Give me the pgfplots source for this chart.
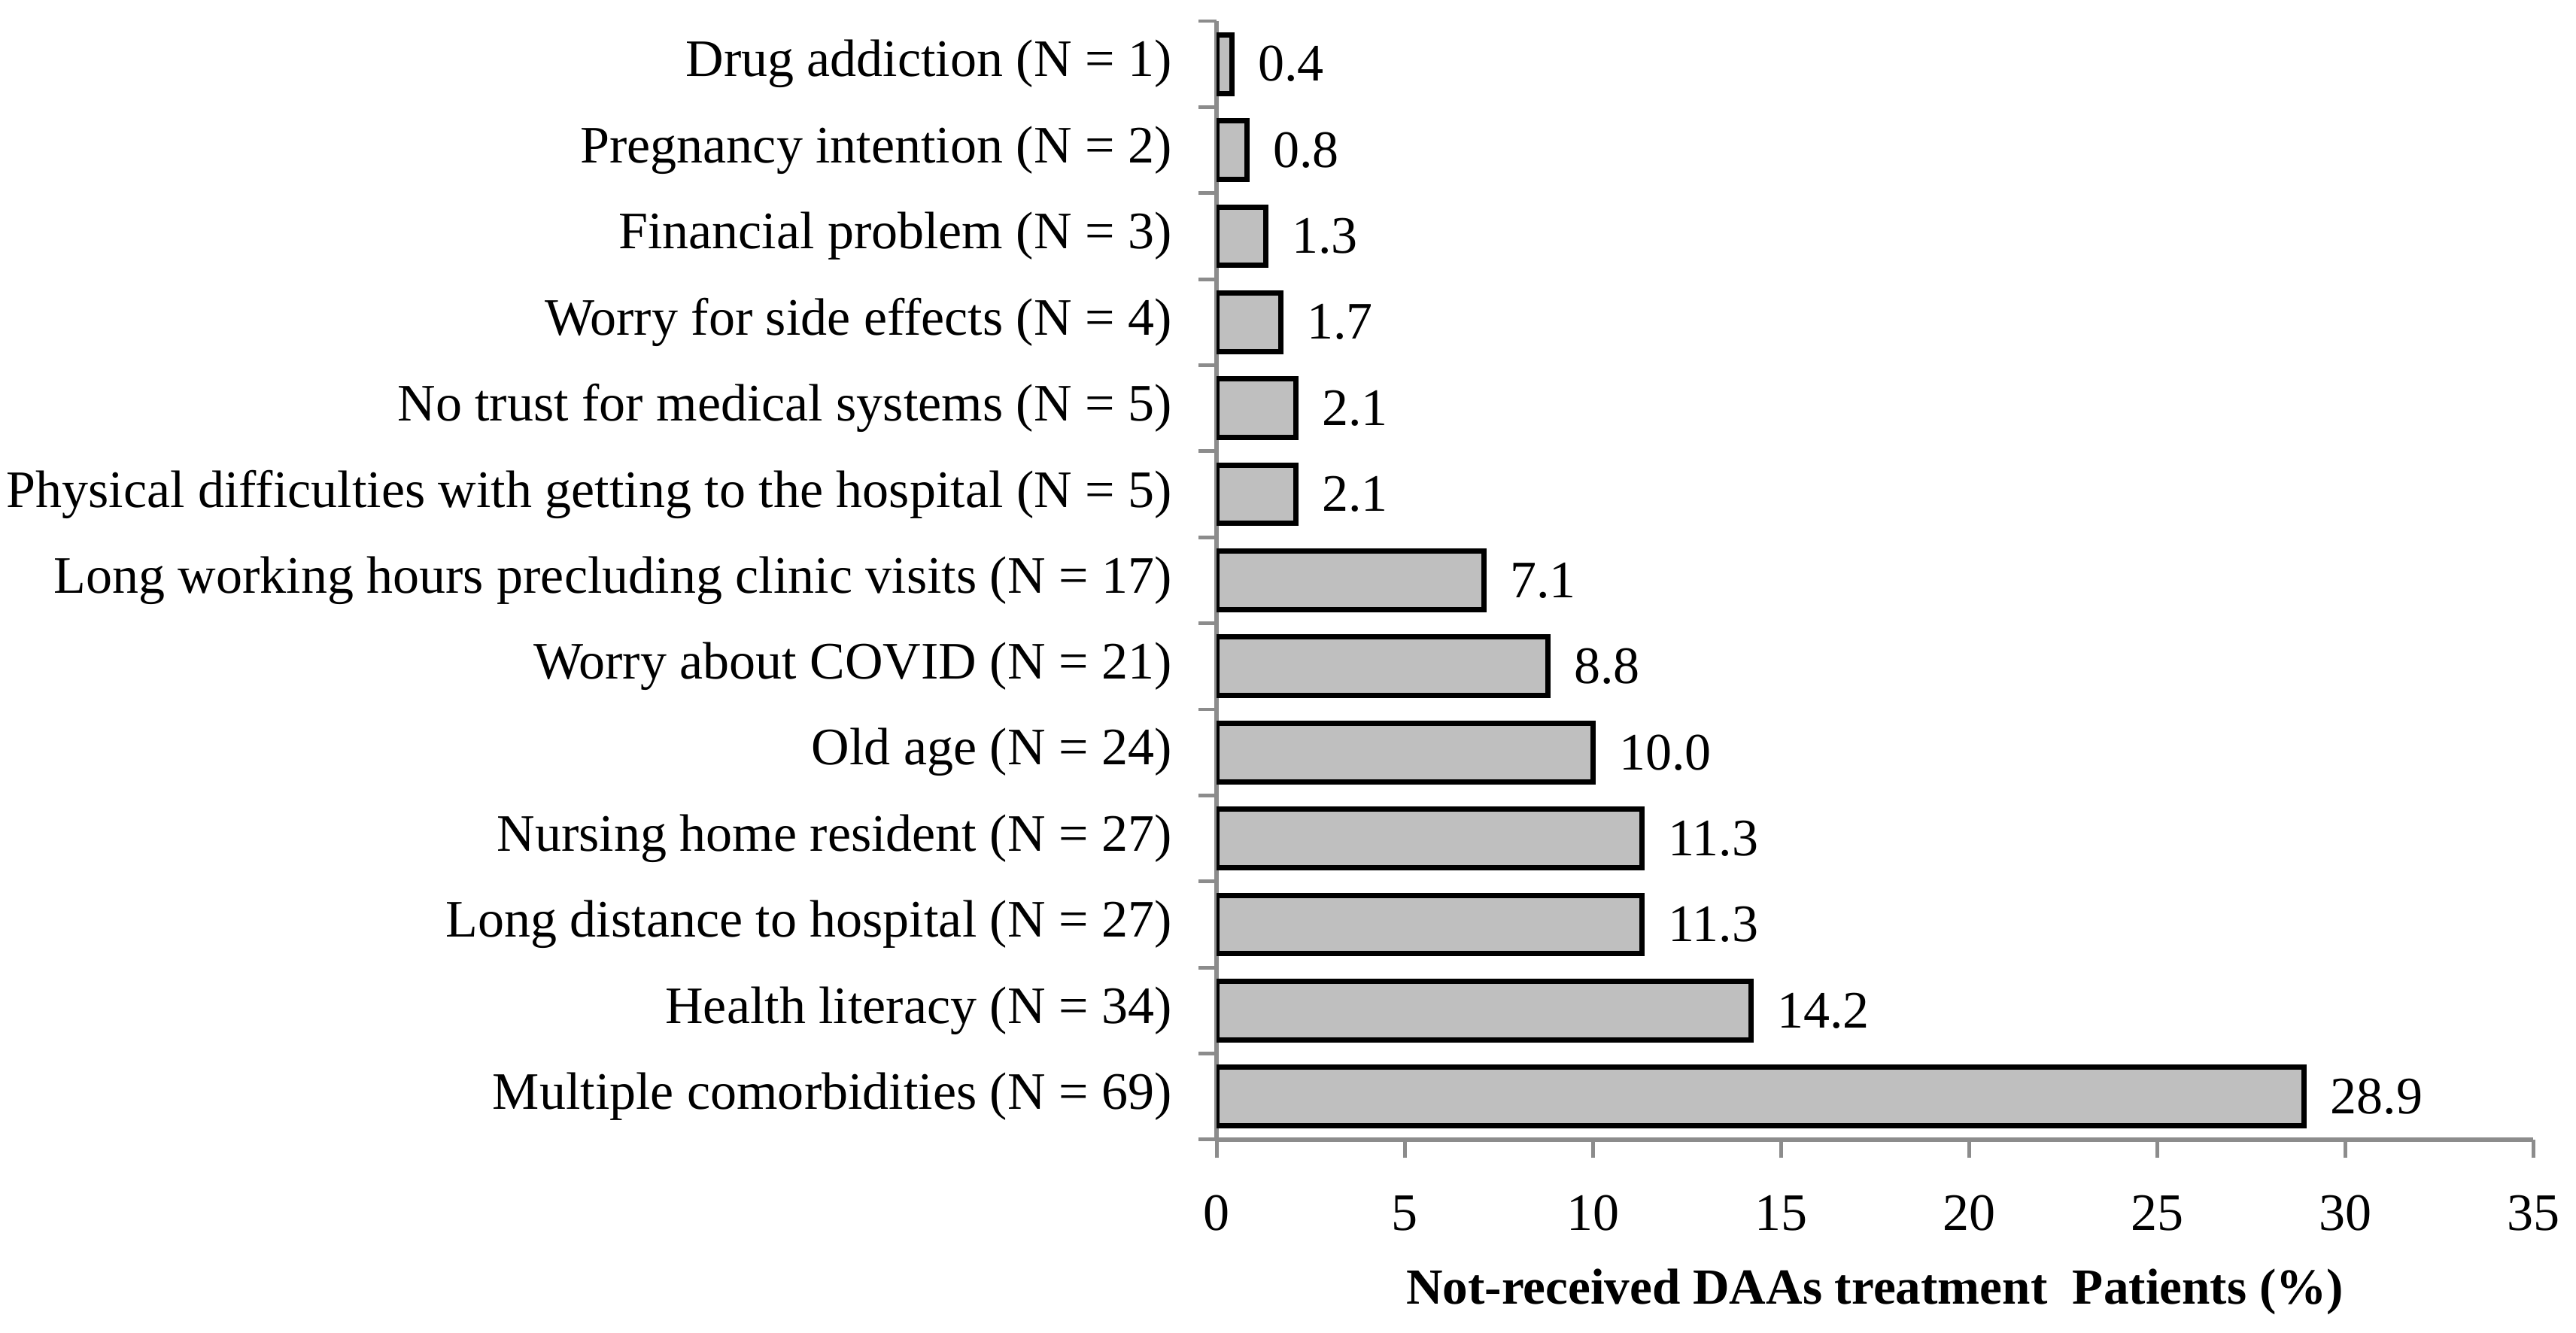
\documentclass[border=0pt]{standalone}
\usepackage{fontspec}
\setmainfont{Liberation Serif}
\usepackage{pgfplots}
\pgfplotsset{compat=1.18}
\definecolor{barfill}{HTML}{BFBFBF}
\definecolor{axgray}{HTML}{8C8C8C}
\begin{document}
\begin{tikzpicture}
\begin{axis}[
  name=ax,
  xbar,
  scale only axis,
  width=250pt, height=212.4pt,
  xmin=0, xmax=35,
  ymin=-0.5, ymax=12.5,
  bar width=0.68,
  axis x line*=bottom,
  axis y line*=left,
  axis line style={draw=axgray, line width=0.8pt},
  tick style={draw=axgray, line width=0.7pt},
  tick align=outside,
  major tick length=3.5pt,
  minor tick length=3.4pt,
  xtick={0,5,...,35},
  ytick={0,...,12},
  minor ytick={-0.5,0.5,...,12.5},
  every major y tick/.append style={draw=none},
  yticklabels={
    Multiple comorbidities (N = 69),
    Health literacy (N = 34),
    Long distance to hospital (N = 27),
    Nursing home resident (N = 27),
    Old age (N = 24),
    Worry about COVID (N = 21),
    Long working hours precluding clinic visits (N = 17),
    Physical difficulties with getting to the hospital (N = 5),
    No trust for medical systems (N = 5),
    Worry for side effects (N = 4),
    Financial problem (N = 3),
    Pregnancy intention (N = 2),
    Drug addiction (N = 1)},
  yticklabel style={font=\fontsize{10pt}{12pt}\selectfont, inner xsep=0pt, xshift=-4.8pt},
  xticklabel style={font=\fontsize{10pt}{12pt}\selectfont, inner xsep=1pt, yshift=-3.6pt},
  /pgf/number format/assume math mode=true,
  xlabel={\bfseries Not-received DAAs treatment\ \ Patients (\%)},
  xlabel style={font=\fontsize{9.6pt}{11pt}\selectfont, yshift=-0.3pt},
  nodes near coords,
  nodes near coords align={horizontal},
  every node near coord/.append style={font=\fontsize{10pt}{12pt}\selectfont, xshift=1.2pt,
    /pgf/number format/.cd, fixed, fixed zerofill, precision=1, assume math mode=true},
]
\addplot[fill=barfill, draw=black, line width=1pt] coordinates {
(28.9,0)
(14.2,1)
(11.3,2)
(11.3,3)
(10.0,4)
(8.8,5)
(7.1,6)
(2.1,7)
(2.1,8)
(1.7,9)
(1.3,10)
(0.8,11)
(0.4,12)
};
\end{axis}
\path ([xshift=-231pt,yshift=-36.4pt]ax.south west) rectangle ([xshift=8.1pt,yshift=4pt]ax.north east);
\end{tikzpicture}
\end{document}
